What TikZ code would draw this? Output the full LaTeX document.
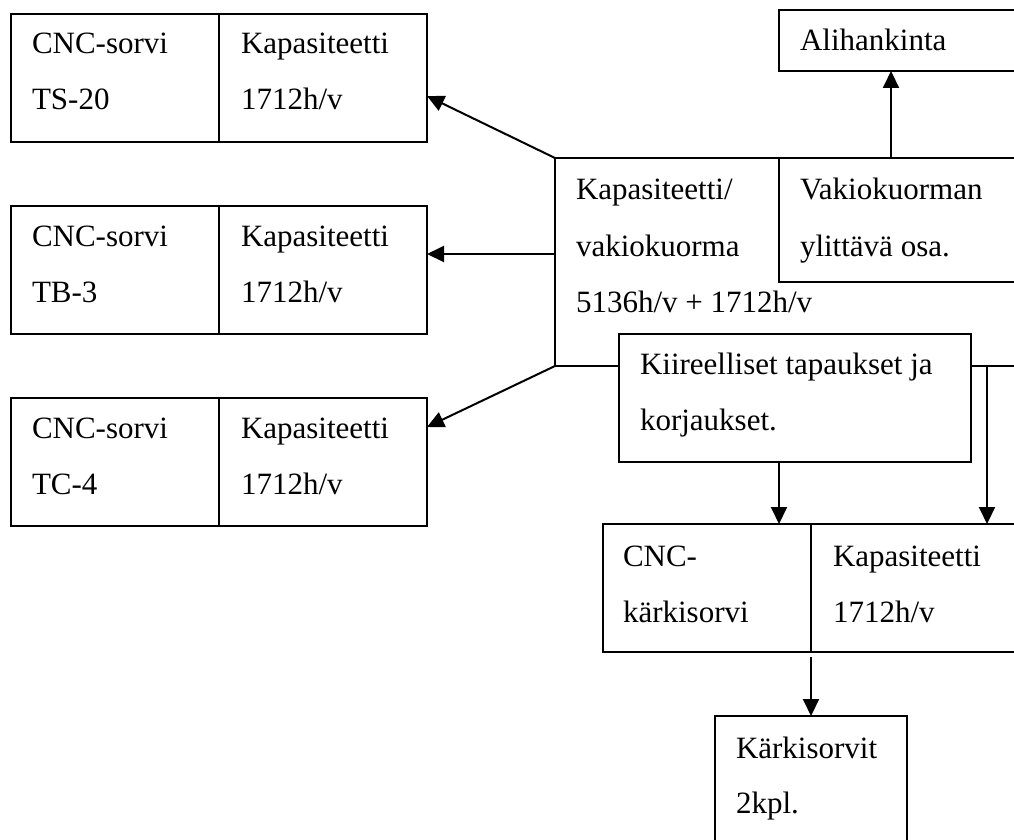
\documentclass[tikz,border=0pt]{standalone}
\usepackage{fontspec}
\setmainfont{Liberation Serif}
\usetikzlibrary{arrows.meta}
\begin{document}
\begin{tikzpicture}[x=1pt,y=-1pt,
  box/.style={draw, line width=2pt, rectangle, inner sep=0pt, outer sep=0pt, anchor=north west},
  whitebox/.style={box, fill=white},
  lbl/.style={anchor=base west, inner sep=0pt, outer sep=0pt, font=\fontsize{31}{37}\selectfont},
  arr/.style={line width=2pt, -{Triangle[length=17pt,width=16pt]}},
  conn/.style={line width=2pt}]
\useasboundingbox (0,0) rectangle (1014,840);
\clip (0,0) rectangle (1014,840);
% left column
\node[box, minimum width=416pt, minimum height=128pt] (ts) at (11,14) {};
\node[box, minimum width=416pt, minimum height=128pt] (tb) at (11,206) {};
\node[box, minimum width=416pt, minimum height=128pt] (tc) at (11,398) {};
\foreach \n in {ts,tb,tc}{
  \draw[conn] ([xshift=208pt]\n.north west) -- ([xshift=208pt]\n.south west);
}
\node[lbl] (ts1) at (32,54) {CNC-sorvi};
\node[lbl] (ts2) at (32,110) {TS-20};
\node[lbl] (ts3) at (241,54) {Kapasiteetti};
\node[lbl] (ts4) at (241,110) {1712h/v};
\node[lbl] (tb1) at (32,246) {CNC-sorvi};
\node[lbl] (tb2) at (32,302) {TB-3};
\node[lbl] (tb3) at (241,246) {Kapasiteetti};
\node[lbl] (tb4) at (241,302) {1712h/v};
\node[lbl] (tc1) at (32,438) {CNC-sorvi};
\node[lbl] (tc2) at (32,494) {TC-4};
\node[lbl] (tc3) at (241,438) {Kapasiteetti};
\node[lbl] (tc4) at (241,494) {1712h/v};
% centre and right
\node[box, minimum width=480pt, minimum height=208pt] (big) at (555,158) {};
\node[box, minimum width=260pt, minimum height=124pt] (vak) at (779,158) {};
\node[box, minimum width=260pt, minimum height=61pt] (ali) at (779,10) {};
\node[whitebox, minimum width=352pt, minimum height=128pt] (kii) at (619,334) {};
\node[box, minimum width=430pt, minimum height=128pt] (kk) at (603,524) {};
\draw[conn] (811,524) coordinate (kkd1) -- (811,652) coordinate (kkd2);
\node[box, minimum width=192pt, minimum height=150pt] (kks) at (715,716) {};
\node[lbl] (big1) at (576,199) {Kapasiteetti/};
\node[lbl] (big2) at (576,256) {vakiokuorma};
\node[lbl] (big3) at (576,312) {5136h/v + 1712h/v};
\node[lbl] (vak1) at (800,199) {Vakiokuorman};
\node[lbl] (vak2) at (800,256) {ylittävä osa.};
\node[lbl] (ali1) at (800,51) {Alihankinta};
\node[lbl] (kii1) at (640,374) {Kiireelliset tapaukset ja};
\node[lbl] (kii2) at (640,430) {korjaukset.};
\node[lbl] (kk1) at (623,566) {CNC-};
\node[lbl] (kk2) at (623,622) {kärkisorvi};
\node[lbl] (kk3) at (833,566) {Kapasiteetti};
\node[lbl] (kk4) at (833,622) {1712h/v};
\node[lbl] (kks1) at (736,758) {Kärkisorvit};
\node[lbl] (kks2) at (736,813) {2kpl.};
% connectors
\coordinate (tsTip) at ([yshift=-18pt]ts.east);
\coordinate (tbTip) at ([yshift=16pt]tb.east);
\coordinate (tcTip) at ([yshift=35pt]tc.east);
\draw[arr] (big.north west) -- (tsTip);
\draw[arr] (big.west |- tbTip) -- (tbTip);
\draw[arr] (big.south west) -- (tcTip);
\coordinate (cUp) at (891,0);
\draw[arr] (vak.north -| cUp) -- (ali.south -| cUp);
\coordinate (cK1) at (779,0);
\coordinate (cK2) at (987,0);
\draw[arr] (kii.south -| cK1) -- (kk.north -| cK1);
\draw[arr] (big.south -| cK2) -- (kk.north -| cK2);
\coordinate (kkLow) at ([yshift=-5pt]kk.south);
\draw[arr] (kkLow -| kkd1) -- (kks.north -| kkd1);
\end{tikzpicture}
\end{document}
